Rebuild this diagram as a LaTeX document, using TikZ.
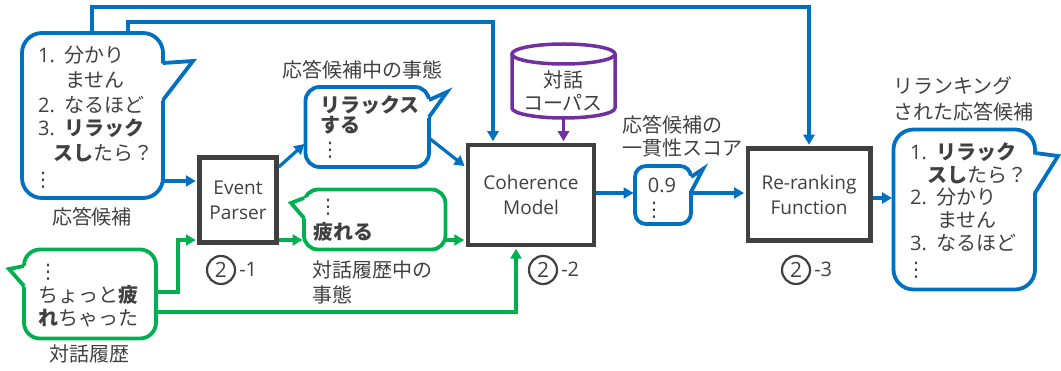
\documentclass[tikz,border=0pt]{standalone}
\usepackage{fontspec}
\setmainfont{Noto Sans CJK JP}
\newfontfamily\lat{Open Sans}
\newfontfamily\dvs{DejaVu Sans}
\usetikzlibrary{arrows.meta}
\definecolor{cblue}{HTML}{0070C0}
\definecolor{cgreen}{HTML}{00B050}
\definecolor{cpurple}{HTML}{7030A0}
\definecolor{cdark}{HTML}{404040}
\newcommand\nm[1]{\makebox[26pt][l]{\lat #1}}
\newcommand\vd{{\dvs ⋮}}
\tikzset{
  box/.style={draw=cdark, line width=4.5pt, fill=white, align=center, inner sep=0pt, text=cdark, font=\lat\fontsize{19}{25}\selectfont},
  tx/.style={inner sep=0pt, text=cdark, font=\fontsize{20}{24}\selectfont},
  tw/.style={tx, anchor=west},
  conn/.style={line width=3.2pt, shorten >=1.5pt, -{Triangle[length=10pt,width=11pt]}},
  cb/.style={conn, draw=cblue},
  cg/.style={conn, draw=cgreen},
  cp/.style={conn, draw=cpurple},
  bubline/.style={line width=3.8pt, draw=#1},
  tailline/.style={bubline=#1, line join=miter},
  cyl/.style={line width=3.5pt, draw=cpurple, fill=white},
  num/.style={circle, draw=cdark, line width=2.2pt, minimum size=28pt, inner sep=0pt, text=cdark, font=\lat\fontsize{21}{22}\selectfont},
  sfx/.style={inner sep=0pt, anchor=west, text=cdark, font=\lat\fontsize{20}{22}\selectfont},
}
\begin{document}
\begin{tikzpicture}[x=1pt,y=-1pt]
\useasboundingbox (0,0) rectangle (1061,371);

% processing boxes
\node[box, minimum width=77pt, minimum height=85pt] (ep) at (238,200) {Event\\Parser};
\node[box, minimum width=126pt, minimum height=100pt] (cm) at (531,195) {Coherence\\Model};
\node[box, minimum width=122.5pt, minimum height=92pt] (rr) at (809,194.5) {Re-ranking\\Function};

% anchor points on bubbles
\coordinate (candE) at (163,181);
\coordinate (candT1) at (92,33);
\coordinate (candT2) at (128,33);
\coordinate (evL) at (305.5,143);
\coordinate (evR) at (429,138);
\coordinate (gvL) at (304,240);
\coordinate (gvR) at (445.5,240);
\coordinate (dlg1) at (156,292);
\coordinate (dlg2) at (156,312);
\coordinate (scL) at (635,193);
\coordinate (scR) at (691,193);
\coordinate (rbL) at (893.5,198);
\coordinate (corpus) at (563.5,118);

% connectors
\draw[cb] (candE) -- (candE -| ep.west);
\draw[cb] ([yshift=33pt]ep.east) -- (evL);
\draw[cb] (evR) -- ([yshift=28pt]cm.west);
\draw[cb] (candT1) -- ++(0,-26) -| (rr.north);
\draw[cb] (candT2) -- ++(0,-11) -| ([xshift=-38pt]cm.north);
\draw[cb] ([yshift=2pt]cm.east) -- (scL);
\draw[cb] (scR) -- (scR -| rr.west);
\draw[cb] (rbL -| rr.east) -- (rbL);
\draw[cg] (dlg1) -- ++(22,0) |- ([yshift=-40pt]ep.west);
\draw[cg] (dlg2) -| ([xshift=-15pt]cm.south);
\draw[cg] ([yshift=-40pt]ep.east) -- (gvL);
\draw[cg] (gvR) -- ([yshift=-45pt]cm.west);
\draw[cp] (corpus) -- (corpus |- cm.north);

% candidate bubble
\draw[bubline=cblue, fill=white, rounded corners=20pt] (22,33) rectangle (163,198);
\fill[white] (157,64) -- (193,61) -- (157,106) -- cycle;
\draw[tailline=cblue] (163,63) -- (193,61) -- (163,100);

% event (candidate) bubble
\draw[bubline=cblue, fill=white, rounded corners=14pt] (305.5,87) rectangle (429,167);
\fill[white] (423,101) -- (447,92) -- (423,124) -- cycle;
\draw[tailline=cblue] (429,100) -- (447,92) -- (429,117);

% event (history) bubble
\draw[bubline=cgreen, fill=white, rounded corners=14pt] (304,189.5) rectangle (445.5,249.5);
\fill[white] (310,196.5) -- (291,203) -- (310,223) -- cycle;
\draw[tailline=cgreen] (304,198) -- (291,203) -- (304,218);

% score bubble
\draw[bubline=cblue, fill=white, rounded corners=11pt] (635,166) rectangle (691,224);
\fill[white] (685,178) -- (703,169) -- (685,198) -- cycle;
\draw[tailline=cblue] (691,177) -- (703,169) -- (691,192);

% reranked bubble
\draw[bubline=cblue, fill=white, rounded corners=20pt] (893.5,129.5) rectangle (1035,289.5);
\fill[white] (1029,154) -- (1058,156) -- (1029,199) -- cycle;
\draw[tailline=cblue] (1035,153) -- (1058,156) -- (1035,193);

% dialogue bubble
\draw[bubline=cgreen, fill=white, rounded corners=16pt] (24,249.5) rectangle (156,338.5);
\fill[white] (30,265) -- (9,269) -- (30,292) -- cycle;
\draw[tailline=cgreen] (24,266) -- (9,269) -- (24,286);

% corpus cylinder
\filldraw[cyl] (512,54) -- (512,108) arc[start angle=180, end angle=0, x radius=51.5, y radius=10] -- (615,54);
\draw[cyl] (563.5,54) ellipse[x radius=51.5, y radius=10];
\node[tx] (db1) at (563,80) {対話};
\node[tx] (db2) at (563,103) {コーパス};

% candidate texts
\node[tw] (l1) at (38,55) {\nm{1.}分かり};
\node[tw] (l2) at (65,80) {ません};
\node[tw] (l3) at (38,105) {\nm{2.}なるほど};
\node[tw] (l4) at (38,128) {\nm{3.}\textbf{リラック}};
\node[tw] (l5) at (53,153) {\textbf{スし}たら？};
\node[tx] (l6) at (43,180) {\vd};
\node[tx] (lcap) at (92,217) {応答候補};

% reranked texts
\node[tw] (r1) at (910,152) {\nm{1.}\textbf{リラック}};
\node[tw] (r2) at (927,175) {\textbf{スし}たら？};
\node[tw] (r3) at (910,197) {\nm{2.}分かり};
\node[tw] (r4) at (937,220) {ません};
\node[tw] (r5) at (910,243) {\nm{3.}なるほど};
\node[tx] (r6) at (916,270) {\vd};
\node[tw] (rc1) at (893,86) {リランキング};
\node[tw] (rc2) at (893,112) {された応答候補};

% event bubble texts
\node[tw] (e1) at (320,105) {\textbf{リラックス}};
\node[tw] (e2) at (320,125) {\textbf{する}};
\node[tx] (e3) at (330,150) {\vd};
\node[tx] (ecap) at (362,70) {応答候補中の事態};
\node[tx] (g1) at (328,207) {\vd};
\node[tw] (g2) at (313,232) {\textbf{疲れる}};
\node[tw] (gc1) at (312,270) {対話履歴中の};
\node[tw] (gc2) at (312,295) {事態};

% dialogue texts
\node[tx] (d1) at (48,272) {\vd};
\node[tw] (d2) at (38,295) {ちょっと\textbf{疲}};
\node[tw] (d3) at (38,318) {\textbf{れ}ちゃった};
\node[tx] (dcap) at (89,354) {対話履歴};

% score texts
\node[tx, font=\lat\fontsize{20}{24}\selectfont] (s1) at (662,185) {0.9};
\node[tx] (s2) at (654,210) {\vd};
\node[tw] (sc1) at (622,125) {応答候補の};
\node[tw] (sc2) at (622,148) {一貫性スコア};

% step numbers
\node[num] (n1) at (221,270) {2};
\node[sfx] (n1s) at (n1.east) [xshift=3pt, yshift=1pt] {-1};
\node[num] (n2) at (543,270) {2};
\node[sfx] (n2s) at (n2.east) [xshift=3pt, yshift=1pt] {-2};
\node[num] (n3) at (796,270) {2};
\node[sfx] (n3s) at (n3.east) [xshift=3pt, yshift=1pt] {-3};
\end{tikzpicture}
\end{document}
